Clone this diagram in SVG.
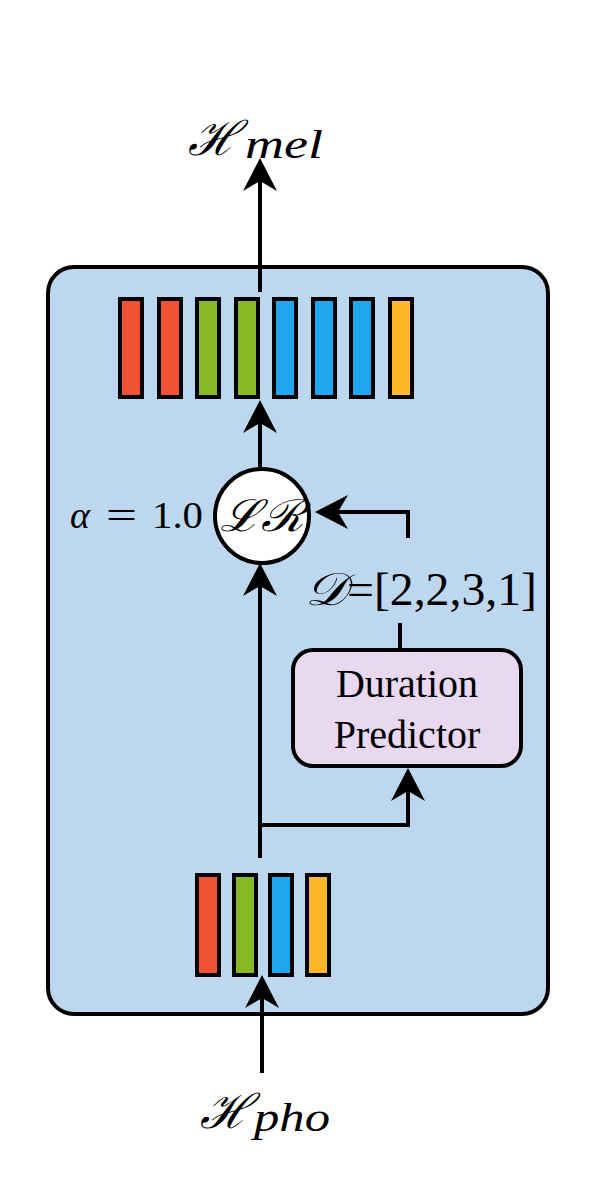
<svg xmlns="http://www.w3.org/2000/svg" width="598" height="1196" viewBox="0 0 598 1196">
<style>
.ln{fill:none;stroke:#000;stroke-width:4;stroke-linejoin:miter}
.bar{stroke:#000;stroke-width:4}
.r{fill:#F05232}.g{fill:#86B925}.b{fill:#1EA7EC}.y{fill:#FDB827}
text{font-family:"Liberation Serif","DejaVu Serif",serif;fill:#000}
.it{font-style:italic}
</style>
<defs>
<marker id="ah" markerUnits="userSpaceOnUse" viewBox="-20 -19 38 38" markerWidth="38" markerHeight="38" refX="0" refY="0" orient="auto">
<path d="M16,0 L-17,-17 L-7,0 L-17,17 Z" fill="#000"/>
</marker>
</defs>
<g id="main-box">
<rect x="48" y="267" width="500" height="747" rx="26" fill="#BDD7EE" stroke="#000" stroke-width="4"/>
</g>
<g id="mel-bars">
<rect class="bar r" x="120" y="299" width="22" height="98"/>
<rect class="bar r" x="159" y="299" width="22" height="98"/>
<rect class="bar g" x="197" y="299" width="22" height="98"/>
<rect class="bar g" x="236" y="299" width="22" height="98"/>
<rect class="bar b" x="274" y="299" width="22" height="98"/>
<rect class="bar b" x="313" y="299" width="22" height="98"/>
<rect class="bar b" x="351" y="299" width="22" height="98"/>
<rect class="bar y" x="390" y="299" width="22" height="98"/>
</g>
<g id="pho-bars">
<rect class="bar r" x="197" y="875" width="22" height="100"/>
<rect class="bar g" x="234" y="875" width="22" height="100"/>
<rect class="bar b" x="270" y="875" width="22" height="100"/>
<rect class="bar y" x="307" y="875" width="22" height="100"/>
</g>
<g id="lr">
<circle cx="262" cy="516" r="47" fill="#fff" stroke="#000" stroke-width="4"/>
<text class="it" x="262" y="531" font-size="44" text-anchor="middle" textLength="84" lengthAdjust="spacingAndGlyphs">ℒℛ</text>
</g>
<g id="duration-predictor">
<rect x="293" y="650" width="228" height="116" rx="20" fill="#E8D8F0" stroke="#000" stroke-width="4"/>
<text x="407" y="697" font-size="40" text-anchor="middle">Duration</text>
<text x="407" y="748" font-size="40" text-anchor="middle">Predictor</text>
</g>
<g id="connectors">
<path class="ln" d="M260,292 V174" marker-end="url(#ah)"/>
<path class="ln" d="M260,468 V416" marker-end="url(#ah)"/>
<path class="ln" d="M260,858 V579" marker-end="url(#ah)"/>
<path class="ln" d="M408,538 V512 H331" marker-end="url(#ah)"/>
<path class="ln" d="M400,623 V648"/>
<path class="ln" d="M260,825 H408 V784" marker-end="url(#ah)"/>
<path class="ln" d="M262,1073 V991" marker-end="url(#ah)"/>
</g>
<g id="labels">
<text class="it" font-size="48"><tspan x="188" y="155">ℋ</tspan><tspan x="245" y="158" font-size="40" textLength="78" lengthAdjust="spacingAndGlyphs">mel</tspan></text>
<text class="it" font-size="48"><tspan x="200" y="1128">ℋ</tspan><tspan x="254" y="1131" font-size="40" textLength="76" lengthAdjust="spacingAndGlyphs">pho</tspan></text>
<text font-size="38"><tspan class="it" x="70" y="528">α</tspan><tspan x="106" y="528" textLength="31" lengthAdjust="spacingAndGlyphs">=</tspan><tspan x="152" y="528" textLength="51" lengthAdjust="spacingAndGlyphs">1.0</tspan></text>
<text font-size="46"><tspan class="it" x="305" y="605" textLength="42" lengthAdjust="spacingAndGlyphs">𝒟</tspan><tspan x="347" y="605" textLength="190" lengthAdjust="spacingAndGlyphs">=[2,2,3,1]</tspan></text>
</g>
</svg>
